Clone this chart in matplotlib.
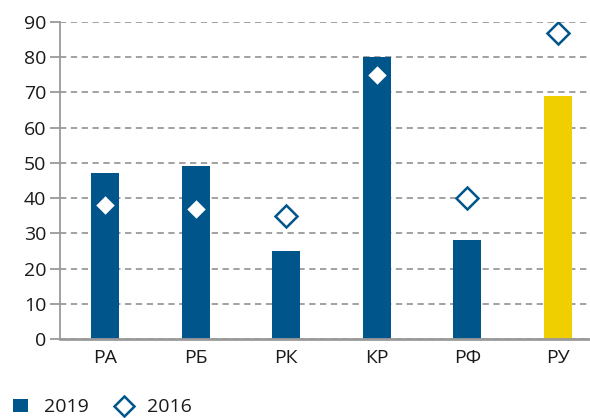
import numpy as np
import matplotlib
matplotlib.use("Agg")
import matplotlib.pyplot as plt
from matplotlib.lines import Line2D
from matplotlib.patches import Patch

# data
regions = ["РА", "РБ", "РК", "КР", "РФ", "РУ"]
val_2019 = [47, 49, 25, 80, 28, 69]
val_2016 = [38, 37, 35, 75, 40, 87]

blue = "#00568a"
yellow = "#f0cf00"
grey = "#9a9a9a"

plt.rcParams["font.family"] = ["Open Sans", "DejaVu Sans"]
plt.rcParams["text.color"] = "#1a1a1a"

fig = plt.figure(figsize=(5.9, 4.18), dpi=100)
ax = fig.add_axes([60 / 590, 79 / 418, 543 / 590, 317 / 418])

x = np.arange(len(regions))
colors = [blue] * (len(regions) - 1) + [yellow]
ax.bar(x, val_2019, width=0.31, color=colors, zorder=2)
ax.plot(x, val_2016, ls="none", marker="D", ms=11, mfc="white",
        mec=blue, mew=1.8, zorder=3)

ax.set_xlim(-0.5, len(regions) - 0.5)
ax.set_ylim(0, 90)
ax.set_yticks(np.arange(0, 91, 10))
ax.set_xticks(x)
ax.set_xticklabels(regions)

ax.yaxis.grid(True, ls=(0, (3.5, 2.5)), color=grey, lw=1.3, zorder=0)
for s in ["top", "right"]:
    ax.spines[s].set_visible(False)
ax.spines["left"].set_color(grey)
ax.spines["left"].set_linewidth(1.3)
ax.spines["bottom"].set_color(grey)
ax.spines["bottom"].set_linewidth(2)
ax.tick_params(axis="y", length=7, width=1.3, color=grey, labelsize=14,
               pad=3, labelcolor="#1a1a1a")
ax.tick_params(axis="x", length=0, labelsize=14, pad=7,
               labelcolor="#1a1a1a")

handles = [
    Patch(facecolor=blue, edgecolor="none"),
    Line2D([], [], ls="none", marker="D", ms=10, mfc="white", mec=blue,
           mew=1.8),
]
fig.legend(handles, ["2019", "2016"], loc="lower left",
           bbox_to_anchor=(-0.008, -0.038), ncol=2, frameon=False,
           fontsize=14, handlelength=0.8, handleheight=0.7,
           columnspacing=1.4, handletextpad=0.8)

fig.savefig("out.png", dpi=100)
